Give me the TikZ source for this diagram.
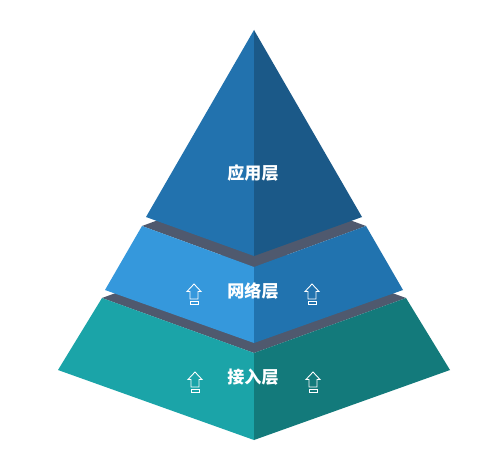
\documentclass[tikz,border=0pt]{standalone}
\usepackage{fontspec}
\usepackage{tikz}
\newfontfamily\cjk{Noto Sans CJK SC}
\definecolor{toplight}{RGB}{34,114,174}
\definecolor{topdark}{RGB}{27,89,136}
\definecolor{midlight}{RGB}{53,152,220}
\definecolor{middark}{RGB}{33,115,175}
\definecolor{botlight}{RGB}{27,164,168}
\definecolor{botdark}{RGB}{19,122,123}
\definecolor{bandgray}{RGB}{79,89,110}
\begin{document}
\begin{tikzpicture}[x=0.02cm, y=-0.02cm,
        layer/.style={font=\cjk\bfseries\fontsize{9.7}{11}\selectfont, text=white},
        uparrow/.pic={
          \draw[white, line width=0.5pt, line join=miter]
            (0,-10) -- (7,-2.5) -- (4,-2.5) -- (4,5) -- (-4,5) -- (-4,-2.5) -- (-7,-2.5) -- cycle;
          \draw[white, line width=0.5pt] (-4,7) rectangle (4,10);
        }]
        \fill[white] (0,0) rectangle (500,476);
        \useasboundingbox (0,0) rectangle (500,476);

        % corners
        \coordinate (apex) at (254,30);
        \coordinate (tl) at (146,217);
        \coordinate (tf) at (254,256);
        \coordinate (tr) at (362,217);

        \coordinate (ml) at (142,226);
        \coordinate (mf) at (254,267);
        \coordinate (mr) at (366,226);
        \coordinate (mb) at (254,185);
        \coordinate (mbl) at (105,290);
        \coordinate (mbf) at (254,343);
        \coordinate (mbr) at (403,290);

        \coordinate (bl) at (102,298);
        \coordinate (bf) at (254,353);
        \coordinate (br) at (406,298);
        \coordinate (bb) at (254,243);
        \coordinate (bbl) at (58,370);
        \coordinate (bbf) at (254,440);
        \coordinate (bbr) at (450,370);

        % bottom layer
        \fill[bandgray] (bl) -- (bb) -- (br) -- (bf) -- cycle;
        \fill[botlight] (bl) -- (bf) -- (bbf) -- (bbl) -- cycle;
        \fill[botdark] (bf) -- (br) -- (bbr) -- (bbf) -- cycle;

        % middle layer
        \fill[bandgray] (ml) -- (mb) -- (mr) -- (mf) -- cycle;
        \fill[midlight] (ml) -- (mf) -- (mbf) -- (mbl) -- cycle;
        \fill[middark] (mf) -- (mr) -- (mbr) -- (mbf) -- cycle;

        % top layer
        \fill[toplight] (apex) -- (tl) -- (tf) -- cycle;
        \fill[topdark] (apex) -- (tf) -- (tr) -- cycle;

        \node[layer] (app) at (253,173) {应用层};
        \node[layer] (net) at (253,291) {网络层};
        \node[layer] (acc) at (253,377) {接入层};

        \pic (netL) at (194,294) {uparrow};
        \pic (netR) at (312,294) {uparrow};
        \pic (accL) at (195,382) {uparrow};
        \pic (accR) at (313,382) {uparrow};
      \end{tikzpicture}
\end{document}
